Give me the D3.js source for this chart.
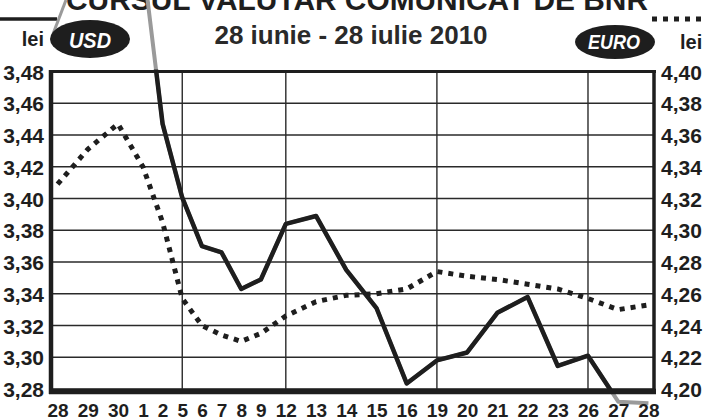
<!DOCTYPE html>
<html><head><meta charset="utf-8">
<script src="https://cdn.jsdelivr.net/npm/d3@7"></script>
<style>html,body{margin:0;padding:0;background:#fff;overflow:hidden}svg{display:block}</style>
</head><body>
<svg id="c" width="706" height="417"></svg>
<script>
// ---- data ----
const categories = ["2010-06-28","2010-06-29","2010-06-30","2010-07-01","2010-07-02","2010-07-05","2010-07-06","2010-07-07","2010-07-08","2010-07-09","2010-07-12","2010-07-13","2010-07-14","2010-07-15","2010-07-16","2010-07-19","2010-07-20","2010-07-21","2010-07-22","2010-07-23","2010-07-26","2010-07-27","2010-07-28"];
const tickLabels = ["28","29","30","1","2","5","6","7","8","9","12","13","14","15","16","19","20","21","22","23","26","27","28"];
const usd = [3.56,3.57,3.58,3.549,3.447,3.4005,3.370,3.366,3.343,3.349,3.384,3.389,3.355,3.331,3.2835,3.298,3.303,3.328,3.338,3.2945,3.301,3.272,3.271];
const euro = [4.329,4.351,4.367,4.340,4.305,4.257,4.240,4.234,4.230,4.235,4.246,4.255,4.259,4.260,4.263,4.274,4.271,4.269,4.266,4.263,4.257,4.250,4.253];
const usdTicks = [3.28,3.30,3.32,3.34,3.36,3.38,3.40,3.42,3.44,3.46,3.48];
const euroTicks = [4.20,4.22,4.24,4.26,4.28,4.30,4.32,4.34,4.36,4.38,4.40];
const mondays = ["2010-07-05","2010-07-12","2010-07-19","2010-07-26"];
const title = "28 iunie - 28 iulie 2010";
const bigTitle = "CURSUL VALUTAR COMUNICAT DE BNR";

// ---- layout ----
const W = 706, H = 417;
const L = 51, R = 654, T = 71.5, B = 389;
const FONT = "'Liberation Sans', Arial, Helvetica, sans-serif";
const INK = "#1e1e1e";
const svg = d3.select("#c");

// x positions follow the flowing label row (labels set as one text line)
const labRow = {start: 47, end: 659, size: 19};
const meas = svg.append("g").attr("visibility","hidden");
const widths = tickLabels.map(t => {
  const n = meas.append("text").attr("font-family",FONT).attr("font-weight","bold")
    .attr("font-size",labRow.size).text(t).node();
  return n.getComputedTextLength();
});
meas.remove();
const sumW = d3.sum(widths);
const gap = (labRow.end - labRow.start - sumW) / (tickLabels.length - 1);
let acc = labRow.start;
const centers = widths.map(w => { const c = acc + w/2; acc += w + gap; return c; });

const x = d3.scaleOrdinal().domain(categories).range(centers);
const yL = d3.scaleLinear().domain([3.28,3.48]).range([B,T]);
const yR = d3.scaleLinear().domain([4.20,4.40]).range([B,T]);

// big cut-off title
svg.append("text").attr("x",(66+648)/2).attr("y",10).attr("text-anchor","middle")
  .attr("font-family",FONT).attr("font-weight","bold").attr("font-size",30)
  .attr("textLength",582).attr("lengthAdjust","spacingAndGlyphs")
  .attr("fill",INK).text(bigTitle);

// grid
const grid = svg.append("g");
grid.selectAll("line.h").data(usdTicks).join("line")
  .attr("x1",L).attr("x2",R).attr("y1",d=>yL(d)).attr("y2",d=>yL(d))
  .attr("stroke","#2a2a2a").attr("stroke-width",1.4);
grid.selectAll("line.v").data(mondays).join("line")
  .attr("x1",d=>x(d)).attr("x2",d=>x(d)).attr("y1",T).attr("y2",B)
  .attr("stroke","#2a2a2a").attr("stroke-width",1.4);

// clip
svg.append("clipPath").attr("id","plot").append("rect")
  .attr("x",L).attr("y",T-2).attr("width",R-L).attr("height",B-T+7);

const lineUsd = d3.line().x((d,i)=>x(categories[i])).y(d=>yL(d));
const lineEur = d3.line().x((d,i)=>x(categories[i])).y(d=>yR(d));

// USD line continued outside the frame in grey
svg.append("path").attr("d",lineUsd(usd)).attr("fill","none")
  .attr("stroke","#9a9a9a").attr("stroke-width",4).attr("stroke-linejoin","round");

// EURO dotted
svg.append("path").attr("d",lineEur(euro)).attr("fill","none").attr("clip-path","url(#plot)")
  .attr("stroke",INK).attr("stroke-width",5).attr("stroke-dasharray","5,6");

// USD solid
svg.append("path").attr("d",lineUsd(usd)).attr("fill","none").attr("clip-path","url(#plot)")
  .attr("stroke",INK).attr("stroke-width",4.5).attr("stroke-linejoin","round");

// frame
svg.append("line").attr("x1",L-2).attr("x2",R+2).attr("y1",T).attr("y2",T).attr("stroke",INK).attr("stroke-width",3);
svg.append("line").attr("x1",R).attr("x2",R).attr("y1",T).attr("y2",B+4).attr("stroke",INK).attr("stroke-width",3.5);
svg.append("line").attr("x1",L).attr("x2",L).attr("y1",T-1.5).attr("y2",B+5).attr("stroke",INK).attr("stroke-width",4.5);
svg.append("line").attr("x1",L-2).attr("x2",R+2).attr("y1",B+2.5).attr("y2",B+2.5).attr("stroke",INK).attr("stroke-width",5.5);

// axes (labels only)
const axL = d3.axisLeft(yL).tickValues(usdTicks).tickSize(0).tickPadding(0)
  .tickFormat(d=>d3.format(".2f")(d).replace(".",","));
const gL = svg.append("g").attr("transform",`translate(${L-7},0)`).call(axL);
const axR = d3.axisRight(yR).tickValues(euroTicks).tickSize(0).tickPadding(0)
  .tickFormat(d=>d3.format(".2f")(d).replace(".",","));
const gR = svg.append("g").attr("transform",`translate(${R+7},0)`).call(axR);
const axB = d3.axisBottom(x).tickSize(0).tickPadding(0).tickFormat((d,i)=>tickLabels[i]);
const gB = svg.append("g").attr("transform",`translate(0,${B})`).call(axB);
[gL,gR,gB].forEach(g=>{
  g.select(".domain").remove();
  g.selectAll("text").attr("font-family",FONT).attr("font-weight","bold").attr("fill",INK);
});
gL.selectAll("text").attr("font-size",21).attr("dy","0.36em");
gR.selectAll("text").attr("font-size",21).attr("dy","0.36em");
gB.selectAll("text").attr("font-size",labRow.size).attr("dy",0).attr("y",27.5);

// header
svg.append("text").attr("x",351).attr("y",44).attr("text-anchor","middle")
  .attr("font-family",FONT).attr("font-weight","bold").attr("font-size",26)
  .attr("fill","#2a2a2a").text(title);

// legend: USD
svg.append("line").attr("x1",0).attr("x2",57).attr("y1",19).attr("y2",19)
  .attr("stroke",INK).attr("stroke-width",3.5);
svg.append("line").attr("x1",53).attr("y1",34).attr("x2",66).attr("y2",0)
  .attr("stroke","#9a9a9a").attr("stroke-width",3);
svg.append("text").attr("x",44).attr("y",46).attr("text-anchor","end")
  .attr("font-family",FONT).attr("font-weight","bold").attr("font-size",20).attr("fill",INK).text("lei");
svg.append("ellipse").attr("cx",90).attr("cy",39).attr("rx",40).attr("ry",19).attr("fill",INK);
svg.append("text").attr("x",90).attr("y",47.5).attr("text-anchor","middle")
  .attr("font-family",FONT).attr("font-weight","bold").attr("font-style","italic").attr("font-size",22)
  .attr("textLength",42).attr("lengthAdjust","spacingAndGlyphs").attr("fill","#fff").text("USD");

// legend: EURO
svg.append("line").attr("x1",652).attr("x2",706).attr("y1",19).attr("y2",19)
  .attr("stroke",INK).attr("stroke-width",5).attr("stroke-dasharray","5,6");
svg.append("ellipse").attr("cx",615).attr("cy",42).attr("rx",40).attr("ry",17).attr("fill",INK);
svg.append("text").attr("x",614).attr("y",48.5).attr("text-anchor","middle")
  .attr("font-family",FONT).attr("font-weight","bold").attr("font-style","italic").attr("font-size",21)
  .attr("textLength",52).attr("lengthAdjust","spacingAndGlyphs").attr("fill","#fff").text("EURO");
svg.append("text").attr("x",680).attr("y",49)
  .attr("font-family",FONT).attr("font-weight","bold").attr("font-size",20).attr("fill",INK).text("lei");
</script>
</body></html>
